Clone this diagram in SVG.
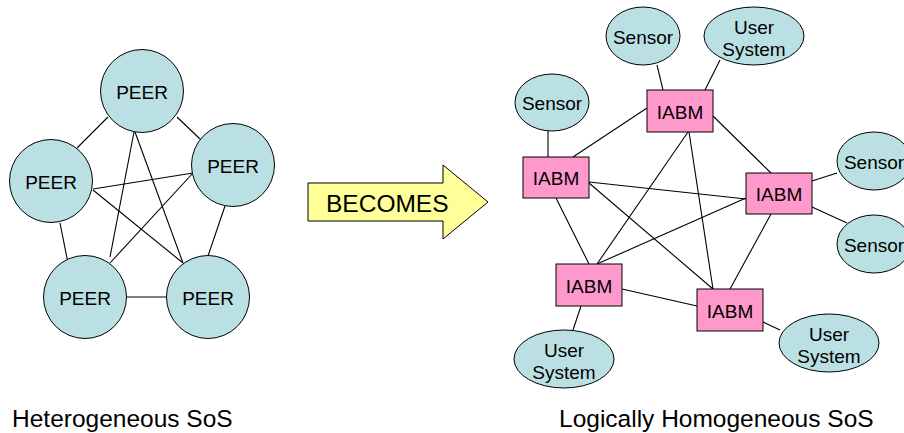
<svg xmlns="http://www.w3.org/2000/svg" width="904" height="433" viewBox="0 0 904 433">
<style>
text{font-family:"Liberation Sans",Arial,sans-serif;fill:#000}
.lbl{font-size:19px;text-anchor:middle}
.big{font-size:24.5px}
.peer{fill:#BBE0E3;stroke:#000;stroke-width:1}
.iabm{fill:#FF99CC;stroke:#000;stroke-width:1}
.conn line{stroke:#000;stroke-width:1.1}
</style>
<rect width="904" height="433" fill="#fff"/>
<g id="connectors" class="conn">
<line x1="108" y1="117" x2="77" y2="148"/>
<line x1="177" y1="117" x2="200" y2="139"/>
<line x1="134" y1="132" x2="110" y2="257"/>
<line x1="135" y1="132" x2="183" y2="263"/>
<line x1="93" y1="189" x2="193" y2="173"/>
<line x1="93" y1="190" x2="183" y2="263"/>
<line x1="193" y1="173" x2="110" y2="263"/>
<line x1="60" y1="223" x2="68" y2="263"/>
<line x1="225" y1="206" x2="208" y2="256"/>
<line x1="126" y1="297" x2="167" y2="297"/>
<line x1="657" y1="65" x2="663" y2="90"/>
<line x1="720" y1="60" x2="705" y2="90"/>
<line x1="548" y1="131" x2="548" y2="157"/>
<line x1="647" y1="108" x2="573" y2="157"/>
<line x1="713" y1="116" x2="771" y2="173"/>
<line x1="688" y1="132" x2="597" y2="264"/>
<line x1="689" y1="132" x2="713" y2="289"/>
<line x1="589" y1="182" x2="746" y2="199"/>
<line x1="589" y1="183" x2="713" y2="289"/>
<line x1="556" y1="198" x2="589" y2="264"/>
<line x1="746" y1="198" x2="597" y2="264"/>
<line x1="771" y1="214" x2="730" y2="289"/>
<line x1="812" y1="181" x2="837" y2="173"/>
<line x1="812" y1="207" x2="847" y2="223"/>
<line x1="622" y1="289" x2="697" y2="306"/>
<line x1="581" y1="306" x2="573" y2="330"/>
<line x1="763" y1="322" x2="780" y2="330"/>
</g>
<g id="peer-top"><circle class="peer" cx="142" cy="91" r="41.5"/><text class="lbl" x="142" y="98.5">PEER</text></g>
<g id="peer-left"><circle class="peer" cx="51" cy="181" r="41.5"/><text class="lbl" x="51" y="188.5">PEER</text></g>
<g id="peer-right"><circle class="peer" cx="233" cy="165" r="41.5"/><text class="lbl" x="233" y="172.5">PEER</text></g>
<g id="peer-bottom-left"><circle class="peer" cx="85" cy="297" r="41.5"/><text class="lbl" x="85" y="304.5">PEER</text></g>
<g id="peer-bottom-right"><circle class="peer" cx="208" cy="297" r="41.5"/><text class="lbl" x="208" y="304.5">PEER</text></g>
<g id="becomes-arrow"><polygon points="308,183 443,183 443,165 488,202 443,239 443,221 308,221" fill="#FFFF99" stroke="#000" stroke-width="1"/><text class="big" x="326" y="212">BECOMES</text></g>
<g id="sensor-top"><ellipse class="peer" cx="643" cy="36" rx="37" ry="29"/><text class="lbl" x="643" y="43.5">Sensor</text></g>
<g id="user-top"><ellipse class="peer" cx="754" cy="36" rx="50" ry="29"/><text class="lbl" x="754" y="33.5">User</text><text class="lbl" x="754" y="56">System</text></g>
<g id="sensor-left"><ellipse class="peer" cx="552" cy="102.5" rx="37" ry="28.5"/><text class="lbl" x="552" y="110">Sensor</text></g>
<g id="sensor-right-1"><ellipse class="peer" cx="874" cy="161" rx="37" ry="29"/><text class="lbl" x="874" y="168.5">Sensor</text></g>
<g id="sensor-right-2"><ellipse class="peer" cx="874" cy="244" rx="37" ry="29"/><text class="lbl" x="874" y="251.5">Sensor</text></g>
<g id="user-bottom-left"><ellipse class="peer" cx="564" cy="359" rx="50" ry="29"/><text class="lbl" x="564" y="356.5">User</text><text class="lbl" x="564" y="379">System</text></g>
<g id="user-bottom-right"><ellipse class="peer" cx="829" cy="343" rx="50" ry="29"/><text class="lbl" x="829" y="340.5">User</text><text class="lbl" x="829" y="363">System</text></g>
<g id="iabm-top"><rect class="iabm" x="647" y="90" width="66" height="42"/><text class="lbl" x="680" y="118.5">IABM</text></g>
<g id="iabm-left"><rect class="iabm" x="523" y="157" width="66" height="41"/><text class="lbl" x="556" y="185">IABM</text></g>
<g id="iabm-right"><rect class="iabm" x="746" y="173" width="66" height="41"/><text class="lbl" x="779" y="201">IABM</text></g>
<g id="iabm-bottom-left"><rect class="iabm" x="556" y="264" width="66" height="42"/><text class="lbl" x="589" y="292.5">IABM</text></g>
<g id="iabm-bottom-mid"><rect class="iabm" x="697" y="289" width="66" height="42"/><text class="lbl" x="730" y="317.5">IABM</text></g>
<g id="title-left"><text class="big" x="12" y="427">Heterogeneous SoS</text></g>
<g id="title-right"><text class="big" x="559" y="427">Logically Homogeneous SoS</text></g>
</svg>
